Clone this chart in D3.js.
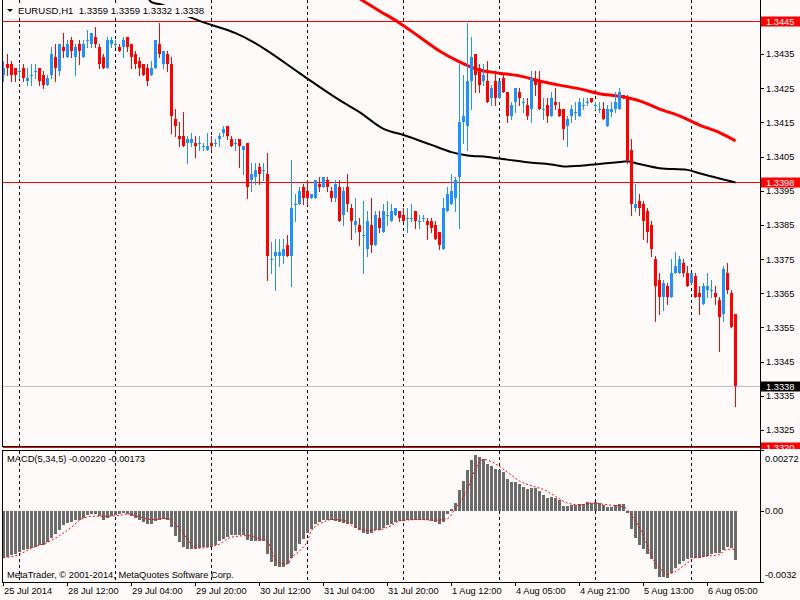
<!DOCTYPE html>
<html><head><meta charset="utf-8">
<script src="https://cdn.jsdelivr.net/npm/d3@7"></script>
<style>
html,body{margin:0;padding:0;background:#fffafa;}
svg{display:block;}
</style></head><body>
<svg id="chart" width="800" height="600"></svg>
<script>
// ---------- DATA ----------
const symbolTitle = "EURUSD,H1  1.3359 1.3359 1.3332 1.3338";
const macdTitle = "MACD(5,34,5) -0.00220 -0.00173";
const copyright = "MetaTrader, \u00A9 2001-2014, MetaQuotes Software Corp.";

const opens = [
1.3429,1.3432,1.3432,1.3431,1.3430,1.3431,1.3427,1.3429,1.3430,1.3431,
1.3429,1.3426,1.3429,1.3434,1.3430,1.3437,1.3434,1.3439,1.3434,1.3438,
1.3434,1.3439,1.3438,1.3440,1.3437,1.3434,1.3431,1.3438,1.3438,1.3437,
1.3437,1.3440,1.3438,1.3435,1.3433,1.3432,1.3431,1.3429,1.3431,1.3438,
1.3432,1.3435,1.3432,1.3416,1.3411,1.3411,1.3409,1.3409,1.3409,1.3409,
1.3408,1.3407,1.3409,1.3409,1.3410,1.3412,1.3414,1.3410,1.3409,1.3410,
1.3407,1.3409,1.3398,1.3399,1.3402,1.3401,1.3400,1.3375,1.3376,1.3376,
1.3376,1.3379,1.3376,1.3391,1.3391,1.3396,1.3395,1.3393,1.3393,1.3397,
1.3396,1.3398,1.3395,1.3393,1.3396,1.3388,1.3396,1.3390,1.3385,1.3385,
1.3382,1.3378,1.3385,1.3379,1.3387,1.3383,1.3388,1.3386,1.3388,1.3389,
1.3388,1.3387,1.3387,1.3389,1.3386,1.3387,1.3386,1.3386,1.3385,1.3383,
1.3378,1.3389,1.3391,1.3393,1.3399,1.3415,1.3414,1.3427,1.3435,1.3431,
1.3427,1.3427,1.3422,1.3427,1.3422,1.3428,1.3424,1.3417,1.3421,1.3424,
1.3421,1.3420,1.3419,1.3427,1.3427,1.3419,1.3420,1.3417,1.3421,1.3419,
1.3419,1.3414,1.3417,1.3418,1.3417,1.3420,1.3421,1.3422,1.3420,1.3419,
1.3419,1.3414,1.3418,1.3419,1.3419,1.3423,1.3422,1.3407,1.3390,1.3392,
1.3391,1.3389,1.3385,1.3375,1.3369,1.3364,1.3367,1.3364,1.3371,1.3371,
1.3374,1.3371,1.3368,1.3370,1.3365,1.3362,1.3366,1.3366,1.3365,1.3363,
1.3359,1.3371,1.3365,1.3359];
const highs = [
1.3433,1.3435,1.3433,1.3431,1.3432,1.3432,1.3431,1.3432,1.3432,1.3431,
1.3430,1.3429,1.3437,1.3438,1.3438,1.3441,1.3439,1.3440,1.3438,1.3439,
1.3439,1.3442,1.3441,1.3443,1.3438,1.3435,1.3440,1.3440,1.3439,1.3438,
1.3440,1.3440,1.3438,1.3436,1.3434,1.3432,1.3432,1.3433,1.3439,1.3444,
1.3436,1.3436,1.3434,1.3419,1.3415,1.3418,1.3411,1.3412,1.3411,1.3411,
1.3409,1.3412,1.3411,1.3410,1.3412,1.3414,1.3414,1.3411,1.3410,1.3410,
1.3408,1.3409,1.3403,1.3403,1.3403,1.3403,1.3406,1.3380,1.3381,1.3381,
1.3381,1.3382,1.3404,1.3394,1.3396,1.3397,1.3398,1.3394,1.3398,1.3399,
1.3399,1.3399,1.3396,1.3398,1.3398,1.3396,1.3400,1.3391,1.3393,1.3387,
1.3392,1.3389,1.3393,1.3389,1.3389,1.3391,1.3392,1.3391,1.3390,1.3389,
1.3390,1.3390,1.3391,1.3389,1.3388,1.3388,1.3387,1.3387,1.3386,1.3383,
1.3393,1.3396,1.3400,1.3399,1.3432,1.3429,1.3444,1.3440,1.3435,1.3432,
1.3432,1.3433,1.3426,1.3430,1.3427,1.3429,1.3424,1.3421,1.3425,1.3425,
1.3422,1.3422,1.3430,1.3430,1.3430,1.3422,1.3422,1.3424,1.3425,1.3421,
1.3419,1.3417,1.3420,1.3421,1.3422,1.3422,1.3422,1.3422,1.3421,1.3421,
1.3421,1.3420,1.3421,1.3424,1.3425,1.3423,1.3423,1.3410,1.3397,1.3394,
1.3392,1.3390,1.3386,1.3376,1.3371,1.3369,1.3368,1.3375,1.3377,1.3376,
1.3375,1.3373,1.3371,1.3371,1.3367,1.3368,1.3371,1.3369,1.3367,1.3364,
1.3373,1.3374,1.3366,1.3359];
const lows = [
1.3427,1.3429,1.3427,1.3427,1.3428,1.3427,1.3426,1.3426,1.3428,1.3426,
1.3425,1.3426,1.3428,1.3427,1.3429,1.3434,1.3434,1.3434,1.3429,1.3432,
1.3434,1.3437,1.3437,1.3437,1.3431,1.3431,1.3431,1.3437,1.3437,1.3436,
1.3434,1.3436,1.3431,1.3431,1.3429,1.3429,1.3426,1.3429,1.3431,1.3434,
1.3431,1.3430,1.3412,1.3411,1.3408,1.3408,1.3403,1.3408,1.3405,1.3407,
1.3407,1.3407,1.3407,1.3408,1.3408,1.3411,1.3410,1.3408,1.3407,1.3402,
1.3400,1.3393,1.3395,1.3397,1.3397,1.3398,1.3369,1.3371,1.3366,1.3373,
1.3374,1.3376,1.3367,1.3386,1.3391,1.3391,1.3391,1.3393,1.3393,1.3395,
1.3396,1.3395,1.3392,1.3392,1.3386,1.3385,1.3389,1.3381,1.3383,1.3379,
1.3371,1.3376,1.3377,1.3379,1.3383,1.3383,1.3385,1.3386,1.3388,1.3386,
1.3386,1.3383,1.3386,1.3384,1.3384,1.3386,1.3381,1.3383,1.3381,1.3378,
1.3378,1.3389,1.3391,1.3389,1.3384,1.3409,1.3407,1.3419,1.3424,1.3424,
1.3426,1.3421,1.3420,1.3420,1.3422,1.3424,1.3415,1.3416,1.3418,1.3420,
1.3418,1.3416,1.3415,1.3423,1.3419,1.3416,1.3415,1.3417,1.3419,1.3417,
1.3410,1.3408,1.3415,1.3416,1.3417,1.3419,1.3420,1.3421,1.3419,1.3418,
1.3416,1.3414,1.3417,1.3418,1.3419,1.3422,1.3403,1.3388,1.3389,1.3388,
1.3381,1.3380,1.3376,1.3357,1.3359,1.3360,1.3362,1.3364,1.3371,1.3371,
1.3370,1.3367,1.3368,1.3364,1.3359,1.3362,1.3364,1.3364,1.3362,1.3348,
1.3357,1.3365,1.3355,1.3332];
const closes = [
1.3431,1.3431,1.3429,1.3429,1.3430,1.3428,1.3428,1.3429,1.3430,1.3427,
1.3426,1.3428,1.3435,1.3431,1.3438,1.3436,1.3438,1.3436,1.3437,1.3436,
1.3438,1.3439,1.3441,1.3438,1.3432,1.3431,1.3439,1.3439,1.3438,1.3436,
1.3439,1.3437,1.3434,1.3432,1.3431,1.3429,1.3427,1.3431,1.3439,1.3435,
1.3436,1.3432,1.3417,1.3414,1.3410,1.3408,1.3410,1.3410,1.3408,1.3409,
1.3408,1.3408,1.3408,1.3409,1.3411,1.3413,1.3411,1.3408,1.3409,1.3408,
1.3408,1.3396,1.3400,1.3401,1.3400,1.3401,1.3376,1.3375,1.3377,1.3377,
1.3378,1.3376,1.3390,1.3391,1.3395,1.3393,1.3393,1.3394,1.3398,1.3396,
1.3399,1.3396,1.3393,1.3397,1.3386,1.3395,1.3391,1.3386,1.3386,1.3383,
1.3382,1.3386,1.3379,1.3388,1.3384,1.3389,1.3388,1.3389,1.3390,1.3387,
1.3386,1.3387,1.3387,1.3386,1.3386,1.3387,1.3385,1.3384,1.3381,1.3379,
1.3390,1.3394,1.3395,1.3398,1.3415,1.3417,1.3427,1.3434,1.3429,1.3426,
1.3429,1.3421,1.3425,1.3422,1.3427,1.3424,1.3417,1.3420,1.3425,1.3422,
1.3421,1.3417,1.3428,1.3426,1.3419,1.3419,1.3417,1.3422,1.3420,1.3417,
1.3413,1.3416,1.3419,1.3418,1.3421,1.3420,1.3421,1.3421,1.3420,1.3419,
1.3416,1.3419,1.3419,1.3421,1.3424,1.3422,1.3404,1.3391,1.3391,1.3390,
1.3386,1.3383,1.3378,1.3367,1.3364,1.3368,1.3364,1.3371,1.3373,1.3375,
1.3371,1.3367,1.3371,1.3364,1.3364,1.3367,1.3367,1.3366,1.3364,1.3358,
1.3372,1.3366,1.3355,1.3338];

// moving averages: [bar index, price]
const maRed = [[89,1.34512],[94,1.34476],[99,1.34441],[104,1.34400],[109,1.34359],[114,1.34327],
[119,1.34303],[124,1.34294],[129,1.34286],[134,1.34271],[139,1.34259],[144,1.34248],[149,1.34234],
[154,1.34226],[159,1.34213],[164,1.34189],[169,1.34169],[174,1.34142],[179,1.34120],[183,1.34096]];
const maBlack = [[36,1.34515],[37,1.34502],[40,1.34493],[46,1.34461],[49,1.34447],[52,1.34435],
[58,1.34411],[62,1.34388],[66,1.34359],[74,1.34294],[84,1.34215],[89,1.34180],[95,1.34131],
[100,1.34113],[107,1.34084],[112,1.34063],[116,1.34053],[121,1.34049],[126,1.34041],[131,1.34033],
[137,1.34027],[140,1.34021],[145,1.34024],[149,1.34028],[154,1.34034],[156,1.34036],[159,1.34028],
[164,1.34016],[171,1.34011],[174,1.34001],[179,1.33986],[183,1.33974]];

// MACD histogram (one per bar) and signal line samples
const macdHist = [
-0.00211,-0.00207,-0.00201,-0.00193,-0.00184,-0.00178,-0.00173,-0.00168,-0.00162,-0.00156,
-0.00153,-0.00142,-0.00123,-0.00104,-0.00086,-0.00066,-0.00055,-0.00049,-0.00043,-0.00040,
-0.00031,-0.00021,-0.00015,-0.00017,-0.00025,-0.00043,-0.00031,-0.00025,-0.00020,-0.00015,
-0.00012,-0.00015,-0.00025,-0.00035,-0.00043,-0.00051,-0.00058,-0.00058,-0.00047,-0.00043,
-0.00037,-0.00043,-0.00074,-0.00112,-0.00142,-0.00165,-0.00173,-0.00173,-0.00173,-0.00168,
-0.00165,-0.00165,-0.00162,-0.00153,-0.00138,-0.00127,-0.00119,-0.00110,-0.00107,-0.00107,
-0.00109,-0.00132,-0.00135,-0.00135,-0.00135,-0.00138,-0.00196,-0.00230,-0.00247,-0.00253,
-0.00251,-0.00239,-0.00211,-0.00181,-0.00150,-0.00127,-0.00101,-0.00081,-0.00058,-0.00051,
-0.00043,-0.00040,-0.00043,-0.00046,-0.00051,-0.00055,-0.00061,-0.00061,-0.00077,-0.00089,
-0.00101,-0.00104,-0.00101,-0.00089,-0.00086,-0.00077,-0.00066,-0.00058,-0.00051,-0.00046,
-0.00046,-0.00043,-0.00040,-0.00040,-0.00040,-0.00040,-0.00043,-0.00046,-0.00052,-0.00061,
-0.00051,-0.00015,0.00008,0.00034,0.00092,0.00133,0.00184,0.00225,0.00248,0.00240,
0.00230,0.00210,0.00202,0.00187,0.00184,0.00172,0.00141,0.00129,0.00129,0.00118,
0.00107,0.00095,0.00103,0.00103,0.00087,0.00072,0.00057,0.00061,0.00057,0.00046,
0.00021,0.00021,0.00026,0.00026,0.00031,0.00031,0.00037,0.00034,0.00037,0.00034,
0.00026,0.00015,0.00018,0.00026,0.00031,0.00031,-0.00009,-0.00081,-0.00123,-0.00153,
-0.00173,-0.00196,-0.00219,-0.00260,-0.00296,-0.00299,-0.00303,-0.00280,-0.00257,-0.00239,
-0.00224,-0.00219,-0.00211,-0.00211,-0.00211,-0.00208,-0.00204,-0.00196,-0.00188,-0.00188,
-0.00178,-0.00162,-0.00168,-0.00220];
const macdSignal = [[0,-0.00211],[4,-0.00196],[7,-0.00168],[11,-0.00142],[14,-0.00112],[17,-0.00074],
[19,-0.00043],[22,-0.00025],[26,-0.00025],[29,-0.00021],[31,-0.00015],[34,-0.00028],[37,-0.00040],
[41,-0.00035],[42,-0.00043],[44,-0.00081],[46,-0.00127],[48,-0.00168],[51,-0.00165],[54,-0.00150],
[57,-0.00119],[61,-0.00112],[64,-0.00127],[66,-0.00135],[67,-0.00181],[69,-0.00234],[71,-0.00239],
[72,-0.00211],[74,-0.00181],[76,-0.00135],[77,-0.00089],[80,-0.00051],[82,-0.00040],[85,-0.00043],
[87,-0.00066],[91,-0.00089],[94,-0.00086],[97,-0.00066],[99,-0.00046],[104,-0.00040],[108,-0.00043],
[111,-0.00035],[113,0.00011],[116,0.00095],[118,0.00187],[120,0.00230],[123,0.00210],[126,0.00172],
[129,0.00133],[133,0.00106],[135,0.00095],[138,0.00064],[141,0.00034],[144,0.00026],[147,0.00034],
[151,0.00026],[155,0.00018],[157,-0.00020],[160,-0.00112],[162,-0.00204],[165,-0.00273],[166,-0.00285],
[168,-0.00273],[171,-0.00234],[173,-0.00211],[176,-0.00204],[179,-0.00196],[181,-0.00173],[183,-0.00173]];

const priceTicks = [1.3445,1.3435,1.3425,1.3415,1.3405,1.3395,1.3385,1.3375,1.3365,1.3355,1.3345,1.3335,1.3325];
const redLevels = [1.34447, 1.33976, 1.3320];
const bidPrice = 1.3338;
const macdTicks = [0.00272, 0, -0.0032];
const macdTickLabels = ["0.00272","0.00","-0.0032"];
const timeLabels = ["25 Jul 2014","28 Jul 12:00","29 Jul 04:00","29 Jul 20:00","30 Jul 12:00","31 Jul 04:00",
"31 Jul 20:00","1 Aug 12:00","4 Aug 05:00","4 Aug 21:00","5 Aug 13:00","6 Aug 05:00"];
const timeLabelBars = [0,16,32,48,64,80,96,112,128,144,160,176];
const dayStartBars = [4,28,52,76,100,124,148,172];

// ---------- STYLE / LAYOUT ----------
const BG = "#fffafa", RED = "#ff0000", BLUE = "#1e90ff", HIST = "#6b6b6b";
const FONT = "'Liberation Sans', Arial, sans-serif";
const FS = 9.3;
const L = 2, R = 760, MAIN_B = 446, SUB_T = 450, SUB_B = 582;

const svg = d3.select("#chart");
const x = d3.scaleLinear().domain([0, 183]).range([3.5, 735.5]);
const y = d3.scaleLinear().domain([1.3435, 1.3325]).range([54, 430]);
const ym = d3.scaleLinear().domain([-0.0032, 0.00272]).range([SUB_B, SUB_T]);
const fmt4 = d3.format(".4f");

const defs = svg.append("defs");
defs.append("clipPath").attr("id","clipMain").append("rect")
  .attr("x",L+1).attr("y",0).attr("width",R-L-1).attr("height",MAIN_B);
defs.append("clipPath").attr("id","clipLevels").append("rect")
  .attr("x",L+1).attr("y",0).attr("width",R-L-1).attr("height",449);
defs.append("clipPath").attr("id","clipSub").append("rect")
  .attr("x",L+1).attr("y",SUB_T+1).attr("width",R-L-1).attr("height",SUB_B-SUB_T-1);
defs.append("clipPath").attr("id","clipBox").append("rect")
  .attr("x",R).attr("y",0).attr("width",40).attr("height",449);

svg.append("rect").attr("width",800).attr("height",600).attr("fill",BG);

// vertical dashed day separators
const grid = svg.append("g").attr("stroke","#000").attr("stroke-width",1)
  .attr("stroke-dasharray","3,3").attr("shape-rendering","crispEdges");
dayStartBars.forEach(b => {
  const gx = Math.floor(x(b)) + 0.5;
  grid.append("line").attr("x1",gx).attr("x2",gx).attr("y1",0).attr("y2",MAIN_B);
  grid.append("line").attr("x1",gx).attr("x2",gx).attr("y1",SUB_T+1).attr("y2",SUB_B);
});

// horizontal level lines
const lv = svg.append("g").attr("clip-path","url(#clipLevels)").attr("shape-rendering","crispEdges");
redLevels.forEach(p => {
  const py = Math.round(y(p)) + 0.5;
  lv.append("line").attr("x1",L).attr("x2",R).attr("y1",py).attr("y2",py).attr("stroke",RED);
});
{
  const py = Math.round(y(bidPrice)) + 0.5;
  lv.append("line").attr("x1",L).attr("x2",R).attr("y1",py).attr("y2",py).attr("stroke","#c0c0c0");
}

const main = svg.append("g").attr("clip-path","url(#clipMain)");

// moving averages
const maLine = d3.line().x(d => x(d[0])).y(d => y(d[1])).curve(d3.curveMonotoneX);
main.append("path").datum(maBlack).attr("d",maLine).attr("fill","none").attr("stroke","#000").attr("stroke-width",2);
main.append("path").datum(maRed).attr("d",maLine).attr("fill","none").attr("stroke",RED).attr("stroke-width",3);

// candles
const bars = d3.range(opens.length).map(i => ({i, o:opens[i], h:highs[i], l:lows[i], c:closes[i]}));
const col = d => d.c < d.o ? RED : BLUE;
const cg = main.append("g").attr("shape-rendering","crispEdges");
cg.selectAll("rect.w").data(bars).join("rect").attr("class","w")
  .attr("x", d => x(d.i) - 0.5).attr("width", 1)
  .attr("y", d => Math.round(y(d.h)))
  .attr("height", d => Math.max(1, Math.round(y(d.l)) - Math.round(y(d.h)) + 1))
  .attr("fill", col);
cg.selectAll("rect.b").data(bars).join("rect").attr("class","b")
  .attr("x", d => x(d.i) - 1.5).attr("width", 3)
  .attr("y", d => Math.round(y(Math.max(d.o, d.c))))
  .attr("height", d => Math.max(1, Math.round(y(Math.min(d.o, d.c))) - Math.round(y(Math.max(d.o, d.c)))))
  .attr("fill", col);

// title
svg.append("rect").attr("x",16).attr("y",5).attr("width",186).attr("height",12).attr("fill",BG);
svg.append("path").attr("d","M7,9H13L10,12Z").attr("fill","#000");
svg.append("text").attr("x",18).attr("y",11).attr("dy","0.35em")
  .attr("font-family",FONT).attr("font-size",9.6).attr("fill","#000")
  .style("white-space","pre").text(symbolTitle);

// frames
const fr = svg.append("g").attr("stroke","#000").attr("fill","none").attr("shape-rendering","crispEdges");
fr.append("path").attr("d",`M${L+0.5},0V${MAIN_B+0.5}H${R+0.5}`);
fr.append("rect").attr("x",L+0.5).attr("y",SUB_T+0.5).attr("width",R-L).attr("height",SUB_B-SUB_T);
fr.append("line").attr("x1",R+0.5).attr("x2",R+0.5).attr("y1",0).attr("y2",SUB_B+0.5);

// price axis
const pa = svg.append("g").attr("transform",`translate(${R},0)`)
  .call(d3.axisRight(y).tickValues(priceTicks).tickFormat(fmt4).tickSize(4).tickPadding(2));
pa.select(".domain").remove();
pa.attr("font-family",FONT).attr("font-size",FS).attr("color","#000");
pa.selectAll("line").attr("shape-rendering","crispEdges");

// level boxes
const boxes = svg.append("g").attr("clip-path","url(#clipBox)");
function levelBox(p, fill) {
  const py = Math.round(y(p)) + 0.5;
  boxes.append("rect").attr("x",R+1).attr("y",py-5).attr("width",39).attr("height",10).attr("fill",fill);
  boxes.append("text").attr("x",R+6).attr("y",py).attr("dy","0.35em")
    .attr("font-family",FONT).attr("font-size",FS).attr("fill","#fff").text(fmt4(p));
}
redLevels.forEach(p => levelBox(p, RED));
levelBox(bidPrice, "#000");

// MACD panel
const sub = svg.append("g").attr("clip-path","url(#clipSub)");
const y0 = Math.round(ym(0));
sub.append("g").attr("shape-rendering","crispEdges").selectAll("rect").data(macdHist).join("rect")
  .attr("x", (d,i) => x(i) - 1.5).attr("width", 3)
  .attr("y", d => d >= 0 ? Math.round(ym(d)) : y0)
  .attr("height", d => Math.max(1, Math.abs(Math.round(ym(d)) - y0)))
  .attr("fill", HIST);
const sigLine = d3.line().x(d => x(d[0])).y(d => ym(d[1])).curve(d3.curveMonotoneX);
sub.append("path").datum(macdSignal).attr("d",sigLine).attr("fill","none")
  .attr("stroke",RED).attr("stroke-width",1).attr("stroke-dasharray","2,2");

svg.append("text").attr("x",7).attr("y",459).attr("dy","0.35em")
  .attr("font-family",FONT).attr("font-size",FS).attr("fill","#000").text(macdTitle);
svg.append("text").attr("x",7).attr("y",575).attr("dy","0.35em")
  .attr("font-family",FONT).attr("font-size",FS).attr("fill","#000").text(copyright);

const ma = svg.append("g").attr("transform",`translate(${R},0)`)
  .call(d3.axisRight(ym).tickValues(macdTicks).tickFormat((d,i) => macdTickLabels[i]).tickSize(4).tickPadding(1));
ma.select(".domain").remove();
ma.attr("font-family",FONT).attr("font-size",FS).attr("color","#000");
ma.selectAll("line").attr("shape-rendering","crispEdges");
ma.selectAll("text").attr("dy",(d,i) => i === 0 ? "1.2em" : (i === 2 ? "-0.45em" : "0.32em"));

// time axis
const ta = svg.append("g").attr("transform",`translate(-1,${SUB_B})`)
  .call(d3.axisBottom(x).tickValues(timeLabelBars).tickFormat((d,i) => timeLabels[i]).tickSize(4).tickPadding(1.5));
ta.select(".domain").remove();
ta.attr("font-family",FONT).attr("font-size",FS).attr("color","#000");
ta.selectAll("line").attr("shape-rendering","crispEdges");
ta.selectAll("text").attr("text-anchor","start").attr("x",1);
</script>
</body></html>
